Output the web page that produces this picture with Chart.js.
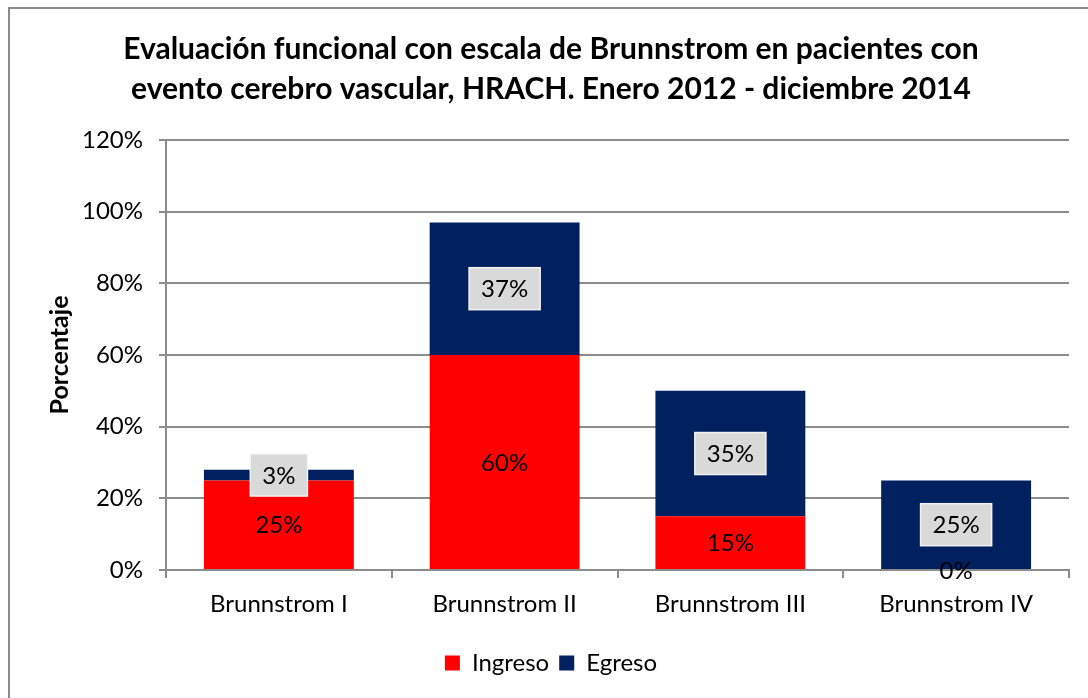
<!DOCTYPE html>
<html>
<head>
<meta charset="utf-8">
<script src="https://cdn.jsdelivr.net/npm/chart.js@4"></script>
<style>
  body { margin: 0; background: #fff; }
  #wrap { position: relative; width: 1088px; height: 698px; overflow: hidden; }
  #frame { position: absolute; left: 8px; top: 7px; width: 1100px; height: 720px; border: 2px solid #8c8c8c; pointer-events: none; }
</style>
</head>
<body>
<div id="wrap">
  <canvas id="myChart" width="1088" height="698"></canvas>
  <div id="frame"></div>
</div>
<script>
const categories = ["Brunnstrom I", "Brunnstrom II", "Brunnstrom III", "Brunnstrom IV"]
const ingreso = [25, 60, 15, 0]
const egreso = [3, 37, 35, 25]
const yTicks = [0, 20, 40, 60, 80, 100, 120]

const FONT = "Lato, 'Open Sans', sans-serif"

// labels in the middle of each segment, Egreso ones get a grey box
const segmentLabels = {
  id: 'segmentLabels',
  afterDatasetsDraw(chart) {
    const ctx = chart.ctx
    ctx.save()
    ctx.font = "24px " + FONT
    ctx.textAlign = 'center'
    ctx.textBaseline = 'middle'
    chart.data.datasets.forEach((ds, i) => {
      const meta = chart.getDatasetMeta(i)
      meta.data.forEach((bar, j) => {
        const txt = ds.data[j] + '%'
        const cy = (bar.y + bar.base) / 2
        if (i === 1) {
          const w = ctx.measureText(txt).width + 24
          const h = 42
          ctx.fillStyle = '#d9d9d9'
          ctx.fillRect(bar.x - w / 2, cy - h / 2, w, h)
          ctx.strokeStyle = '#f2f2f2'
          ctx.lineWidth = 1.5
          ctx.strokeRect(bar.x - w / 2, cy - h / 2, w, h)
        }
        ctx.fillStyle = '#000'
        ctx.fillText(txt, bar.x, cy + 1)
      })
    })
    ctx.restore()
  }
}

const data = {
  labels: categories,
  datasets: [{
    label: "Ingreso",
    data: ingreso,
    backgroundColor: '#ff0000',
    barPercentage: 0.664,
    categoryPercentage: 1
  }, {
    label: "Egreso",
    data: egreso,
    backgroundColor: '#002060',
    barPercentage: 0.664,
    categoryPercentage: 1
  }]
}

const options = {
  responsive: false,
  animation: false,
  layout: { padding: { left: 33, right: 19, top: 0, bottom: 13 } },
  plugins: {
    title: {
      display: true,
      text: ['Evaluación funcional con escala de Brunnstrom en pacientes con',
             'evento cerebro vascular, HRACH. Enero 2012 - diciembre 2014'],
      color: '#000',
      font: { family: FONT, size: 30, weight: 'bold', lineHeight: 1.333 },
      padding: { top: 29, bottom: 31 }
    },
    legend: {
      position: 'bottom',
      labels: {
        color: '#000',
        font: { family: FONT, size: 24 },
        boxWidth: 15,
        boxHeight: 15,
        padding: 10
      }
    },
    tooltip: { enabled: false }
  },
  scales: {
    x: {
      stacked: true,
      grid: { display: true, drawOnChartArea: false, offset: true, tickLength: 8, color: '#8c8c8c', lineWidth: 2 },
      border: { color: '#8c8c8c', width: 2 },
      ticks: { color: '#000', font: { family: FONT, size: 24 }, padding: 12 },
      afterFit(scale) { scale.height = 71 }
    },
    y: {
      stacked: true,
      min: 0,
      max: 120,
      afterBuildTicks(scale) { scale.ticks = yTicks.map(v => ({ value: v })) },
      grid: { color: '#8c8c8c', lineWidth: 2, tickLength: 7 },
      border: { color: '#8c8c8c', width: 2 },
      ticks: { color: '#000', font: { family: FONT, size: 24 }, padding: 16, callback: v => v + '%' },
      title: { display: true, text: 'Porcentaje', color: '#000', font: { family: FONT, size: 25, weight: 'bold', lineHeight: 1.2 }, padding: { top: 12, bottom: 0 } },
      afterFit(scale) { scale.width = 133 }
    }
  }
}

const chart = new Chart(document.querySelector("#myChart"), {
  type: 'bar',
  data: data,
  options: options,
  plugins: [segmentLabels]
})
</script>
</body>
</html>
